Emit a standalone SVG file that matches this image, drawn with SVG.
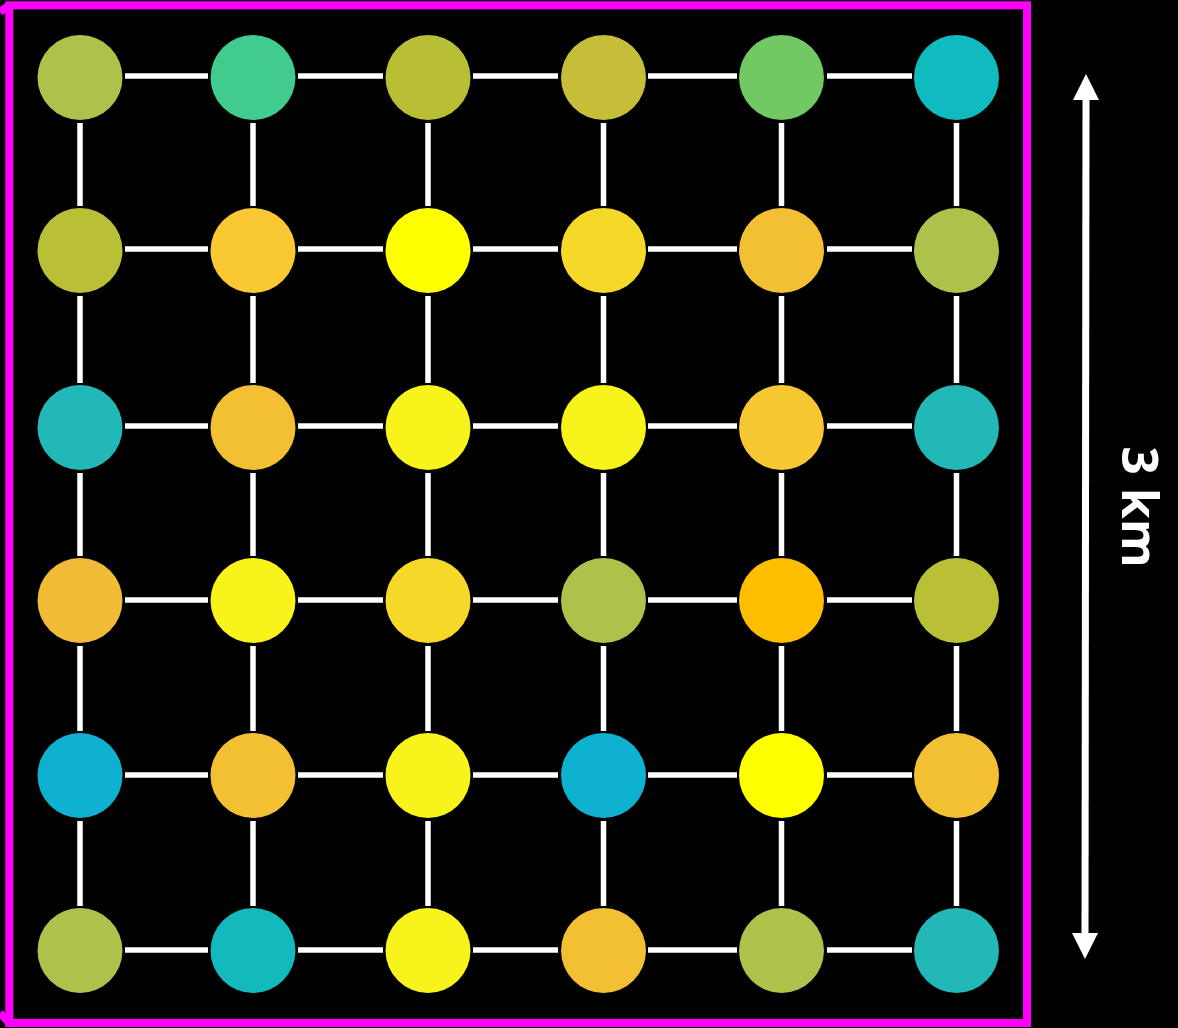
<svg xmlns="http://www.w3.org/2000/svg" width="1178" height="1028" viewBox="0 0 1178 1028">
<style>
.edge{stroke:#ffffff;stroke-width:5.5;fill:none}
.frame{stroke:#ff00ff;stroke-width:8;fill:none;stroke-linejoin:miter}
.lbl{font-family:"Open Sans","DejaVu Sans",sans-serif;font-weight:bold;font-size:50px;fill:#ffffff}
</style>
<rect x="0" y="0" width="1178" height="1028" fill="#000000"/>
<g id="frame">
<rect class="frame" x="9.3" y="5.3" width="1017.7" height="1017.7"/>
<path class="frame" d="M0 12 L9.3 5.3 M0 1013 L9.3 1023" stroke-width="6"/>
</g>
<g id="connectors">
<path class="edge" d="M125 76H208M298 76H383M473 76H558M648 76H737M827 76H912
M125 249H208M298 249H383M473 249H558M648 249H737M827 249H912
M125 426H208M298 426H383M473 426H558M648 426H737M827 426H912
M125 600H208M298 600H383M473 600H558M648 600H737M827 600H912
M125 775H208M298 775H383M473 775H558M648 775H737M827 775H912
M125 950H208M298 950H383M473 950H558M648 950H737M827 950H912"/>
<path class="edge" d="M80 123V206M80 296V383M80 473V556M80 646V731M80 821V906
M253 123V206M253 296V383M253 473V556M253 646V731M253 821V906
M428 123V206M428 296V383M428 473V556M428 646V731M428 821V906
M603.5 123V206M603.5 296V383M603.5 473V556M603.5 646V731M603.5 821V906
M781.5 123V206M781.5 296V383M781.5 473V556M781.5 646V731M781.5 821V906
M956.5 123V206M956.5 296V383M956.5 473V556M956.5 646V731M956.5 821V906"/>
</g>
<g id="nodes">
<circle id="n11" cx="80" cy="77.5" r="42.5" fill="#adc24a"/>
<circle id="n12" cx="253" cy="77.5" r="42.5" fill="#42cb8f"/>
<circle id="n13" cx="428" cy="77.5" r="42.5" fill="#b8bf34"/>
<circle id="n14" cx="603.5" cy="77.5" r="42.5" fill="#c6bd38"/>
<circle id="n15" cx="781.5" cy="77.5" r="42.5" fill="#72c963"/>
<circle id="n16" cx="956.5" cy="77.5" r="42.5" fill="#0fbbbe"/>
<circle id="n21" cx="80" cy="250.5" r="42.5" fill="#b9c035"/>
<circle id="n22" cx="253" cy="250.5" r="42.5" fill="#fac832"/>
<circle id="n23" cx="428" cy="250.5" r="42.5" fill="#ffff00"/>
<circle id="n24" cx="603.5" cy="250.5" r="42.5" fill="#f6d928"/>
<circle id="n25" cx="781.5" cy="250.5" r="42.5" fill="#f2c032"/>
<circle id="n26" cx="956.5" cy="250.5" r="42.5" fill="#adc24a"/>
<circle id="n31" cx="80" cy="427.5" r="42.5" fill="#22b8b8"/>
<circle id="n32" cx="253" cy="427.5" r="42.5" fill="#f2c032"/>
<circle id="n33" cx="428" cy="427.5" r="42.5" fill="#f8f31a"/>
<circle id="n34" cx="603.5" cy="427.5" r="42.5" fill="#f8f31a"/>
<circle id="n35" cx="781.5" cy="427.5" r="42.5" fill="#f8c832"/>
<circle id="n36" cx="956.5" cy="427.5" r="42.5" fill="#22b8b8"/>
<circle id="n41" cx="80" cy="600.5" r="42.5" fill="#f2bb36"/>
<circle id="n42" cx="253" cy="600.5" r="42.5" fill="#f8f31a"/>
<circle id="n43" cx="428" cy="600.5" r="42.5" fill="#f6d928"/>
<circle id="n44" cx="603.5" cy="600.5" r="42.5" fill="#adc24a"/>
<circle id="n45" cx="781.5" cy="600.5" r="42.5" fill="#ffbf00"/>
<circle id="n46" cx="956.5" cy="600.5" r="42.5" fill="#b9c035"/>
<circle id="n51" cx="80" cy="775.5" r="42.5" fill="#0eb1cf"/>
<circle id="n52" cx="253" cy="775.5" r="42.5" fill="#f2c032"/>
<circle id="n53" cx="428" cy="775.5" r="42.5" fill="#f8f31a"/>
<circle id="n54" cx="603.5" cy="775.5" r="42.5" fill="#0eb1cf"/>
<circle id="n55" cx="781.5" cy="775.5" r="42.5" fill="#ffff00"/>
<circle id="n56" cx="956.5" cy="775.5" r="42.5" fill="#f2c032"/>
<circle id="n61" cx="80" cy="950.5" r="42.5" fill="#adc24a"/>
<circle id="n62" cx="253" cy="950.5" r="42.5" fill="#12b9bd"/>
<circle id="n63" cx="428" cy="950.5" r="42.5" fill="#f8f31a"/>
<circle id="n64" cx="603.5" cy="950.5" r="42.5" fill="#f2c032"/>
<circle id="n65" cx="781.5" cy="950.5" r="42.5" fill="#adc24a"/>
<circle id="n66" cx="956.5" cy="950.5" r="42.5" fill="#22b8b8"/>
</g>
<g id="scale">
<line x1="1086" y1="98" x2="1085" y2="935" stroke="#ffffff" stroke-width="7"/>
<polygon points="1086,74 1099,100 1073,100" fill="#ffffff"/>
<polygon points="1085,959 1072,933 1098,933" fill="#ffffff"/>
<text class="lbl" transform="translate(1122 507) rotate(90)" text-anchor="middle">3 km</text>
</g>
</svg>
